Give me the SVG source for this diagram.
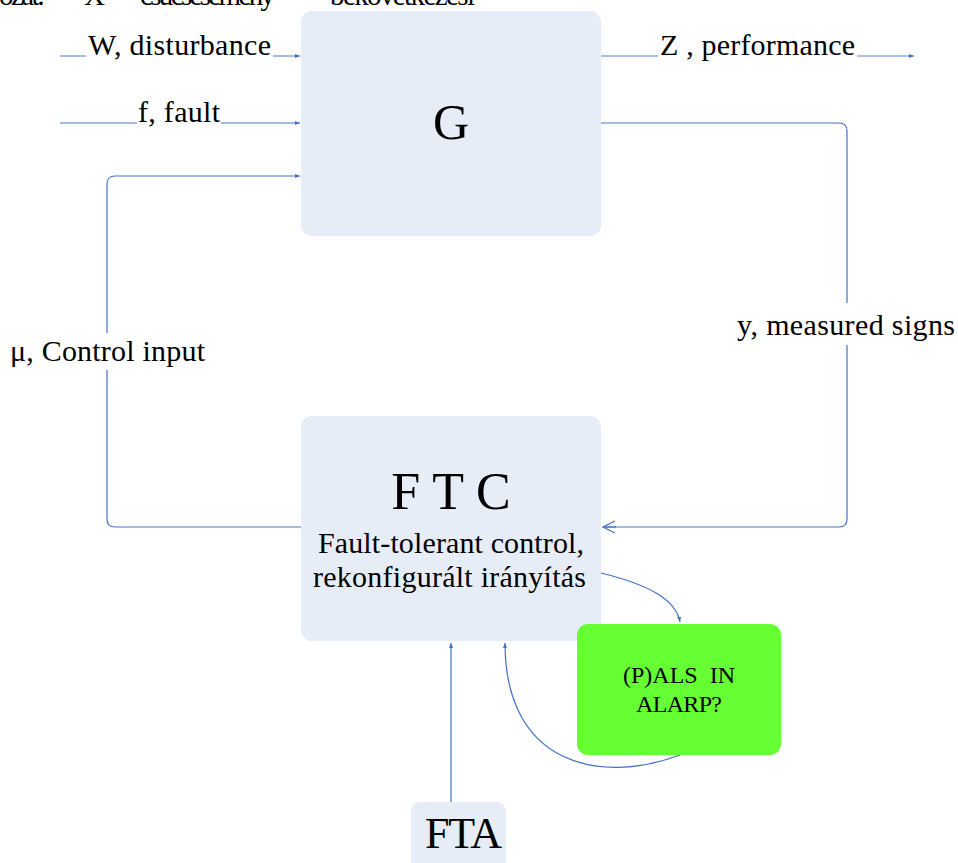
<svg xmlns="http://www.w3.org/2000/svg" width="958" height="863" viewBox="0 0 958 863" font-family="'Liberation Serif','Times New Roman','DejaVu Serif',serif">
<style>
text{font-family:'Liberation Serif','Times New Roman','DejaVu Serif',serif;fill:#000}
.box{fill:#E7EDF7}
.ln{fill:none;stroke:#4472C4;stroke-width:1.2}
.lt{fill:none;stroke:#8EA9DB;stroke-width:1.6}
.lbl{font-size:30px}
</style>
<defs>
<marker id="ah" viewBox="0 0 10 10" refX="10" refY="5" markerWidth="5" markerHeight="5" orient="auto" markerUnits="userSpaceOnUse"><path d="M0,1 L10,5 L0,9 Z" fill="#4472C4"/></marker>
<marker id="oa" viewBox="0 0 14 14" refX="1" refY="7" markerWidth="14" markerHeight="14" orient="auto" markerUnits="userSpaceOnUse"><path d="M13,1 L1,7 L13,13" fill="none" stroke="#4472C4" stroke-width="1.2"/></marker>
</defs>
<g id="caption" font-size="29">
<text x="-1" y="5" textLength="46">ozat:</text><text x="84" y="5">X</text><text x="140" y="5" textLength="135">csúcsesemény</text><text x="330" y="5" textLength="145">bekövetkezési</text>
</g>
<g id="connectors">
<path class="lt" d="M60,56 H86"/>
<path class="lt" d="M273,56 H300" marker-end="url(#ah)"/>
<path class="ln" d="M60,123 H137"/>
<path class="ln" d="M221,123 H300" marker-end="url(#ah)"/>
<path class="lt" d="M601,56 H658"/>
<path class="lt" d="M857,56 H914" marker-end="url(#ah)"/>
<path class="ln" d="M601,123 H839 Q847,123 847,131 V519 Q847,527 839,527 H603"/>
<path class="ln" d="M603,527 H616" marker-start="url(#oa)"/>
<path class="ln" d="M301,527 H115 Q107,527 107,519 V184 Q107,176 115,176 H300" marker-end="url(#ah)"/>
<path class="ln" d="M601,573 C650,585 676,600 680,622" marker-end="url(#ah)"/>
<path class="ln" d="M680,755 C600,785 505,765 505,643" marker-end="url(#ah)"/>
<path class="ln" d="M451,802 V643" marker-end="url(#ah)"/>
</g>
<g id="lbl-w"><text class="lbl" x="88" y="55" textLength="183">W, disturbance</text></g>
<g id="lbl-f"><text class="lbl" x="138" y="122" textLength="82">f, fault</text></g>
<g id="lbl-z"><text class="lbl" x="660" y="55" textLength="195">Z , performance</text></g>
<g id="lbl-y"><rect x="735" y="303" width="222" height="42" fill="#fff"/><text class="lbl" x="737" y="335" textLength="218">y, measured signs</text></g>
<g id="lbl-mu"><rect x="8" y="333" width="200" height="37" fill="#fff"/><text class="lbl" x="10" y="361" textLength="195">μ, Control input</text></g>
<g id="G"><rect class="box" x="301" y="11" width="300" height="225" rx="11"/><text x="451" y="139" font-size="50" text-anchor="middle">G</text></g>
<g id="FTC"><rect class="box" x="301" y="416" width="300" height="225" rx="11"/>
<text x="451" y="509" font-size="52" text-anchor="middle">F T C</text>
<text x="318" y="553" font-size="30" textLength="266">Fault-tolerant control,</text>
<text x="313" y="587" font-size="30" textLength="273">rekonfigurált irányítás</text></g>
<g id="ALARP"><rect x="577" y="624" width="204" height="131" rx="11" fill="#66FF33"/>
<text x="623" y="683" font-size="24" textLength="112" xml:space="preserve">(P)ALS  IN</text>
<text x="636" y="712" font-size="24" textLength="86">ALARP?</text></g>
<g id="FTA"><rect class="box" x="411" y="802" width="95" height="80" rx="9"/><text x="425" y="848" font-size="44" textLength="77">FTA</text></g>
</svg>
